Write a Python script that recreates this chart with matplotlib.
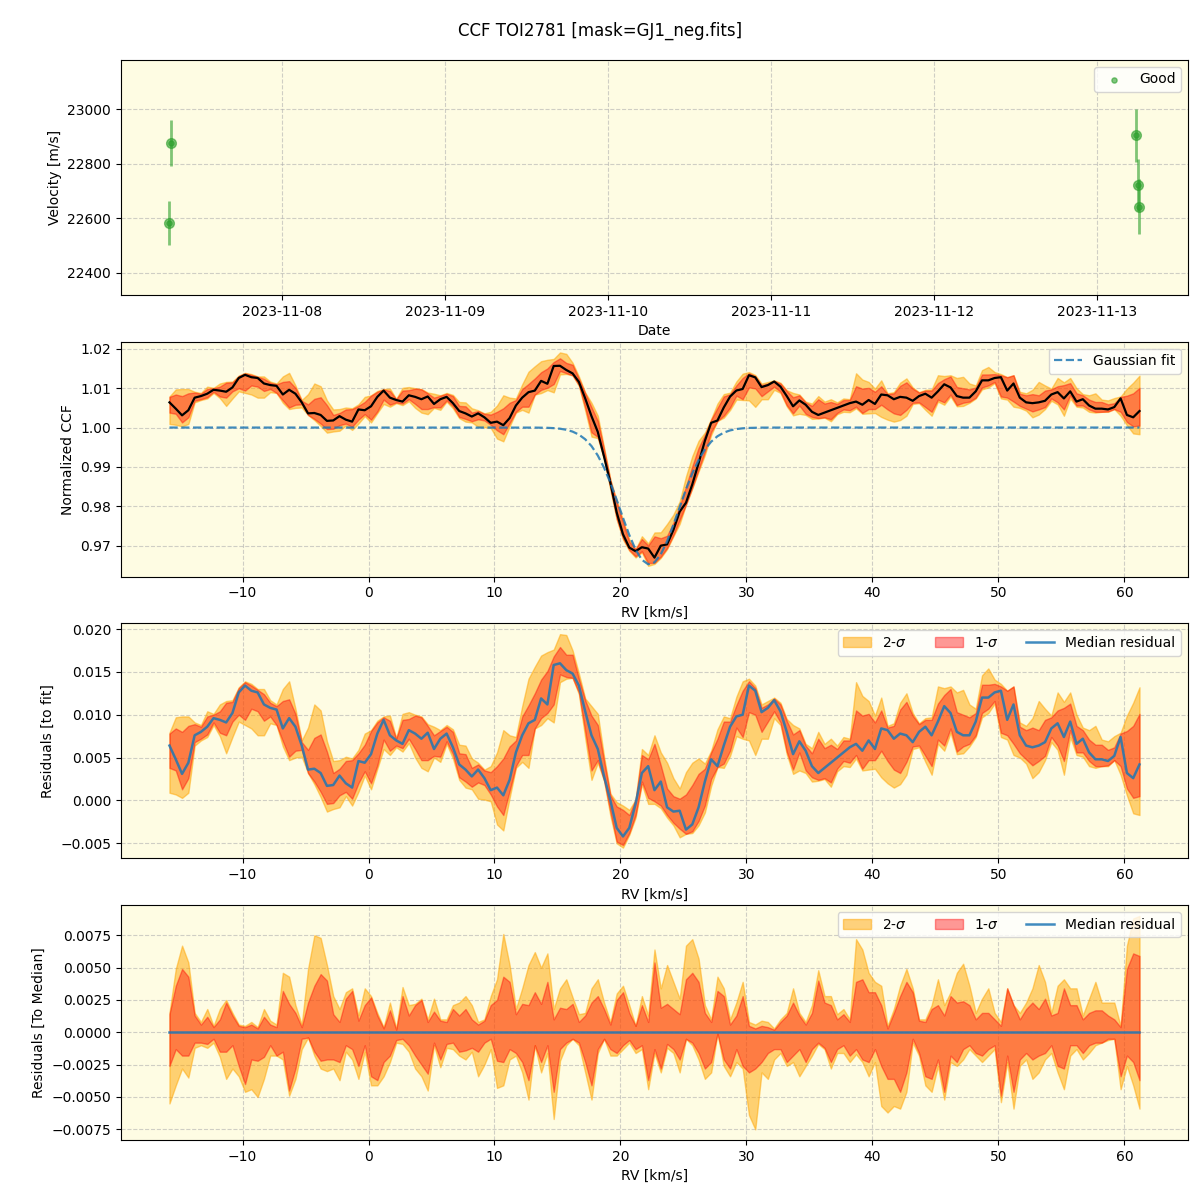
import numpy as np
import matplotlib
matplotlib.use("Agg")
import matplotlib.pyplot as plt
import matplotlib.dates as mdates
from datetime import datetime

# ---------------- data: velocity time series ----------------
obs_times = ["2023-11-07 07:38", "2023-11-07 07:28", "2023-11-13 05:43",
             "2023-11-13 06:01", "2023-11-13 06:14"]
obs_vel = [22876, 22584, 22905, 22722, 22643]
obs_err = [84, 81, 97, 95, 100]

# ---------------- data: CCF ----------------
rv = np.round(np.arange(-15.8, 61.2 + 0.01, 0.5), 2)   # km/s grid

# Gaussian fit parameters
fit_cont = 1.0
fit_depth = 0.0348
fit_center = 22.3
fit_sigma = 2.3

# median residual to the Gaussian fit (units of 1e-3)
resid_med = [
    6.4, 4.8, 3.1, 4.4, 7.6, 8.0, 8.6, 9.6, 9.4, 9.1,
    10.2, 12.6, 13.4, 12.8, 12.6, 11.2, 10.8, 10.6, 8.4, 9.6,
    8.6, 6.4, 3.6, 3.7, 3.2, 1.7, 1.8, 2.9, 2.0, 1.5,
    4.6, 4.4, 5.4, 7.8, 9.4, 7.6, 7.0, 6.6, 8.2, 7.8,
    7.2, 7.9, 6.0, 7.2, 7.8, 6.2, 4.2, 3.6, 2.8, 3.6,
    2.6, 1.2, 1.5,
    0.6, 2.4, 5.6, 7.6, 9.0, 9.4, 11.9, 11.2, 15.8, 16.0,
    15.2, 14.8, 13.4, 10.4, 7.6, 6.0, 2.8, 0.0, -3.2, -4.2,
    -3.2, -0.4, 3.2, 4.0, 1.2, 2.2, -0.8, -1.3, -1.2, -3.4,
    -2.8, -0.8, 2.2, 4.8, 4.0, 6.4, 8.6, 9.8, 10.0, 13.4,
    12.8, 10.3, 10.8, 11.7, 10.4, 8.0, 5.4, 6.9, 5.8, 4.0,
    3.2, 3.8,
    4.4, 5.0, 5.6, 6.2, 6.6, 5.8, 7.0, 6.0, 8.4, 8.2,
    7.2, 7.8, 7.6, 6.8, 8.0, 8.6, 7.6, 9.2, 11.0, 10.2,
    8.0, 7.6, 7.6, 9.2, 12.0, 12.0, 12.6, 12.8, 9.4, 11.2,
    7.6, 6.4, 6.2, 6.4, 6.8, 8.4, 9.0, 7.4, 9.2, 6.6,
    7.2, 5.6, 4.8, 4.8, 4.6, 5.2, 7.4, 3.2, 2.6, 4.2,
]

# band offsets relative to the median CCF (units of 1e-3)
hi2 = [
    1.5, 4.9, 6.7, 5.4, 1.5, 0.8, 1.8, 0.5, 1.8, 2.5,
    1.5, 0.6, 0.5, 0.8, 0.4, 1.8, 0.9, 0.6, 4.6, 4.3,
    2.1, 0.6, 4.9, 7.5, 7.3, 5.2, 2.8, 1.8, 3.1, 3.4,
    1.3, 3.4, 2.8, 1.5, 0.4, 2.3, 0.3, 3.5, 2.1, 2.2,
    2.6, 1.0, 2.6, 1.0, 1.0, 2.1, 2.3, 2.8, 2.1, 0.8,
    1.0, 2.8, 4.1,
    7.6, 5.2, 1.8, 3.4, 5.2, 6.2, 5.0, 6.1, 1.8, 3.4,
    4.1, 2.7, 1.4, 1.5, 3.4, 4.1, 2.3, 0.8, 3.0, 3.6,
    2.1, 0.5, 2.8, 1.3, 6.4, 3.4, 5.2, 3.9, 2.6, 6.7,
    7.2, 5.7, 2.1, 1.0, 4.3, 3.4, 1.0, 2.3, 3.9, 0.8,
    0.6, 0.9, 0.8, 0.3, 1.0, 1.5, 3.4, 1.5, 0.8, 2.1,
    4.8, 2.8,
    2.8, 1.4, 1.8, 1.0, 7.2, 6.4, 4.6, 3.9, 3.6, 0.5,
    1.8, 3.6, 4.9, 3.4, 1.0, 1.0, 2.1, 4.1, 2.1, 3.1,
    4.6, 5.3, 3.6, 1.5, 2.6, 3.4, 1.5, 0.8, 3.4, 2.1,
    1.5, 2.3, 3.4, 5.2, 3.9, 1.5, 3.6, 4.1, 3.4, 3.4,
    1.3, 2.6, 3.9, 2.3, 2.3, 2.3, 0.5, 6.7, 8.8, 9.0,
]
hi1 = [
    1.4, 3.6, 4.9, 4.3, 1.3, 0.6, 1.2, 0.4, 1.0, 2.3,
    1.3, 0.5, 0.4, 0.6, 0.3, 1.2, 0.6, 0.4, 3.2, 2.2,
    1.5, 0.4, 2.3, 3.6, 4.5, 4.0, 1.4, 0.8, 2.6, 3.2,
    0.9, 2.1, 2.7, 1.3, 0.3, 1.7, 0.2, 2.8, 1.3, 2.1,
    2.5, 0.8, 1.6, 0.9, 0.8, 1.8, 1.3, 1.8, 1.0, 0.6,
    0.9, 2.1, 2.5,
    4.3, 3.9, 1.4, 2.2, 2.1, 3.1, 2.2, 3.9, 1.0, 1.9,
    1.8, 2.2, 0.8, 1.3, 2.3, 2.8, 1.8, 0.6, 2.5, 3.1,
    1.5, 0.5, 2.1, 0.8, 5.4, 1.9, 2.2, 1.8, 1.4, 4.1,
    4.6, 3.9, 1.5, 0.8, 3.2, 2.8, 0.6, 1.3, 2.8, 0.5,
    0.3, 0.5, 0.4, 0.2, 0.8, 1.3, 2.3, 1.3, 0.6, 1.5,
    4.0, 2.3,
    2.1, 1.0, 1.4, 0.8, 3.9, 4.1, 3.1, 3.1, 2.1, 0.3,
    1.5, 2.8, 3.9, 3.1, 0.9, 0.8, 1.8, 2.1, 1.3, 2.8,
    2.3, 2.4, 2.1, 1.0, 1.5, 1.5, 1.0, 0.5, 3.4, 2.1,
    1.0, 1.8, 2.3, 1.8, 2.6, 1.3, 1.5, 3.4, 2.1, 2.1,
    1.0, 1.5, 1.7, 1.7, 1.3, 1.0, 0.4, 4.9, 6.1, 5.9,
]
lo1 = [
    -2.6, -1.3, -1.8, -1.8, -0.8, -0.8, -0.9, -0.5, -1.5, -1.5,
    -1.0, -2.6, -4.0, -2.1, -2.2, -1.9, -1.0, -1.8, -1.5, -4.5,
    -2.8, -0.5, -0.4, -1.5, -2.2, -2.1, -2.1, -2.3, -1.0, -1.3,
    -2.6, -1.0, -3.4, -3.7, -2.3, -1.8, -0.6, -0.5, -1.0, -1.8,
    -2.5, -3.2, -0.8, -2.1, -0.9, -0.8, -1.5, -1.4, -1.2, -1.5,
    -0.8, -0.5, -2.2,
    -2.3, -1.3, -1.6, -2.3, -3.7, -1.0, -2.3, -1.0, -4.6, -1.3,
    -0.8, -0.5, -0.8, -2.3, -4.1, -1.3, -0.5, -1.3, -1.6, -1.0,
    -0.6, -1.3, -1.0, -3.7, -1.3, -2.8, -0.9, -1.3, -2.1, -0.5,
    -0.8, -1.6, -2.8, -2.3, -0.1, -2.1, -2.8, -1.3, -2.6, -3.1,
    -2.8, -2.3, -1.6, -1.3, -1.3, -2.3, -1.8, -1.3, -2.3, -1.3,
    -0.8, -1.2,
    -2.3, -1.3, -1.0, -1.8, -1.3, -2.1, -2.3, -1.3, -2.6, -3.6,
    -3.6, -4.6, -3.1, -0.5, -1.6, -3.4, -3.6, -2.1, -4.6, -1.8,
    -2.3, -1.3, -1.0, -1.6, -1.8, -1.3, -1.0, -4.9, -1.8, -4.6,
    -2.1, -1.6, -2.1, -1.8, -1.6, -1.0, -2.6, -2.8, -1.0, -1.0,
    -1.6, -1.0, -0.8, -0.8, -0.5, -0.5, -3.4, -1.8, -2.3, -3.7,
]
lo2 = [
    -5.5, -4.1, -2.8, -3.5, -1.2, -1.0, -1.2, -0.8, -1.9, -3.6,
    -2.8, -3.4, -4.6, -4.4, -5.0, -3.6, -1.8, -1.8, -2.1, -4.9,
    -3.6, -1.3, -0.4, -1.8, -2.8, -3.0, -2.8, -3.7, -1.5, -2.1,
    -3.6, -1.5, -4.1, -4.1, -3.4, -2.3, -0.8, -0.9, -1.5, -2.8,
    -3.4, -4.5, -1.0, -2.7, -1.2, -1.3, -1.8, -2.1, -1.5, -3.4,
    -2.5, -1.3, -4.3,
    -4.1, -2.1, -1.8, -3.1, -5.2, -1.0, -3.1, -1.6, -6.7, -2.2,
    -1.0, -0.5, -1.0, -3.1, -5.2, -1.6, -0.5, -1.8, -1.8, -1.3,
    -0.8, -1.6, -1.3, -4.4, -1.6, -3.1, -1.2, -1.6, -3.1, -0.5,
    -1.0, -2.1, -3.6, -3.1, -0.1, -2.6, -3.4, -2.3, -2.8, -6.4,
    -7.5, -3.1, -3.6, -2.1, -1.6, -2.6, -2.3, -3.4, -2.6, -1.8,
    -0.9, -1.3,
    -2.8, -1.6, -1.6, -2.3, -1.7, -2.3, -3.4, -2.3, -5.7, -6.2,
    -5.7, -5.9, -4.6, -0.8, -1.8, -4.1, -4.6, -2.6, -5.2, -2.3,
    -2.6, -2.1, -1.3, -1.8, -2.3, -1.8, -1.3, -5.4, -2.3, -5.9,
    -2.6, -2.1, -3.6, -3.1, -2.1, -1.6, -3.1, -4.4, -1.8, -1.3,
    -2.1, -1.6, -1.0, -0.8, -0.6, -0.5, -4.4, -2.6, -4.1, -5.9,
]

# ---------------- derived quantities ----------------
scale = 1e-3
resid = np.array(resid_med) * scale
o_hi2 = np.array(hi2) * scale
o_hi1 = np.array(hi1) * scale
o_lo1 = np.array(lo1) * scale
o_lo2 = np.array(lo2) * scale
gauss = fit_cont - fit_depth * np.exp(-0.5 * ((rv - fit_center) / fit_sigma) ** 2)
ccf = gauss + resid

# ---------------- figure ----------------
bg = "#fefce3"
fig, axes = plt.subplots(4, 1, figsize=(12, 12), dpi=100)
fig.subplots_adjust(left=0.1008, right=0.99, top=0.95, bottom=0.05, hspace=0.2)
fig.suptitle("CCF TOI2781 [mask=GJ1_neg.fits]", fontsize=12, y=0.982)

for ax in axes:
    ax.set_facecolor(bg)
    ax.grid(True, linestyle="--", color="#b0b0b0", alpha=0.6)
    ax.set_axisbelow(True)

# panel 1
ax = axes[0]
t = [datetime.strptime(s, "%Y-%m-%d %H:%M") for s in obs_times]
ax.errorbar(t, obs_vel, yerr=obs_err, fmt="o", color="tab:green", ecolor="tab:green",
            alpha=0.6, ms=7, elinewidth=2)
ax.scatter(t, obs_vel, s=14, color="tab:green", alpha=0.6, label="Good", zorder=3)
ax.set_ylim(22320, 23180)
ax.set_yticks([22400, 22600, 22800, 23000])
ax.xaxis.set_major_locator(mdates.DayLocator())
ax.xaxis.set_major_formatter(mdates.DateFormatter("%Y-%m-%d"))
ax.set_xlabel("Date")
ax.set_ylabel("Velocity [m/s]")
ax.legend(loc="upper right")

# panel 2
ax = axes[1]
ax.fill_between(rv, ccf + o_lo2, ccf + o_hi2, color="orange", alpha=0.5)
ax.fill_between(rv, ccf + o_lo1, ccf + o_hi1, color="red", alpha=0.4)
ax.plot(rv, ccf, color="black", lw=1.6)
ax.plot(rv, gauss, "--", color="C0", lw=1.6, alpha=0.85, label="Gaussian fit")
ax.set_xlabel("RV [km/s]")
ax.set_ylabel("Normalized CCF")
ax.legend(loc="upper right")

# panel 3
ax = axes[2]
ax.fill_between(rv, resid + o_lo2, resid + o_hi2, color="orange", alpha=0.5, label="2-$\\sigma$")
ax.fill_between(rv, resid + o_lo1, resid + o_hi1, color="red", alpha=0.4, label="1-$\\sigma$")
ax.plot(rv, resid, color="C0", lw=1.8, alpha=0.85, label="Median residual")
ax.set_xlabel("RV [km/s]")
ax.set_ylabel("Residuals [to fit]")
ax.legend(loc="upper right", ncol=3)

# panel 4
ax = axes[3]
zero = np.zeros_like(rv)
ax.fill_between(rv, o_lo2, o_hi2, color="orange", alpha=0.5, label="2-$\\sigma$")
ax.fill_between(rv, o_lo1, o_hi1, color="red", alpha=0.4, label="1-$\\sigma$")
ax.plot(rv, zero, color="C0", lw=1.8, alpha=0.85, label="Median residual")
ax.set_xlabel("RV [km/s]")
ax.set_ylabel("Residuals [To Median]")
ax.legend(loc="upper right", ncol=3)

fig.savefig("out.png", dpi=100)
